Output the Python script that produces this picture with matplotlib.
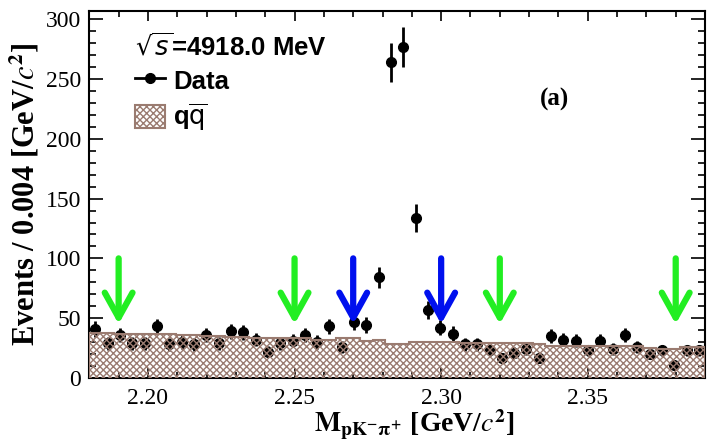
import numpy as np
import matplotlib.pyplot as plt
from matplotlib.lines import Line2D
from matplotlib.patches import Patch, FancyArrowPatch
from matplotlib.ticker import MultipleLocator

plt.rcParams['mathtext.fontset'] = 'stix'
plt.rcParams['hatch.linewidth'] = 1.0

# histogram range, 50 bins
m_lo, m_hi, n_bins = 2.18, 2.39, 50

# data counts per bin
counts = [41, 29, 36, 29, 29, 43, 28, 30, 28, 36,
          29, 39, 38, 32, 22, 29, 31, 36, 30, 43,
          26, 47, 44, 84, 264, 277, 134, 57, 42, 37,
          28, 28, 23, 17, 21, 24, 17, 35, 32, 31,
          23, 31, 24, 36, 26, 20, 23, 11, 23, 23]

# q-qbar background (MC), same binning
bkg = [37.5, 37.5, 37, 37, 37, 36.5, 36.5, 36, 35.5, 35,
       35, 34.5, 34, 33.5, 33, 33.5, 33, 33, 31.5, 31.5,
       33.5, 33.5, 30.5, 32, 28.5, 28, 30, 30, 30, 30,
       29, 29, 29, 29, 29, 29, 28.5, 27, 27, 27,
       27, 27, 27, 27, 26.5, 25, 24.5, 24.5, 26, 26]

# signal window (blue) and sideband (green) boundaries
green_cuts = [2.19, 2.25, 2.32, 2.38]
blue_cuts = [2.27, 2.30]
arrow_top, arrow_tip = 100, 45

brown = '#9a7b70'
hatch = 'xxxxx'

edges = np.linspace(m_lo, m_hi, n_bins + 1)
centers = 0.5 * (edges[:-1] + edges[1:])
counts = np.array(counts)
errs = np.sqrt(counts)

fig = plt.figure(figsize=(7.1, 4.44), dpi=100)
ax = fig.add_axes([0.1258, 0.149, 0.8672, 0.826])

ax.errorbar(centers, counts, yerr=errs, fmt='o', color='black', ms=7,
            elinewidth=2, capsize=0, zorder=2)

ax.stairs(bkg, edges, fill=True, facecolor='none', edgecolor=brown,
          hatch=hatch, lw=1.5, zorder=3)


def cut_arrow(x, col):
    ax.add_patch(FancyArrowPatch((x, arrow_top), (x, arrow_tip),
                                 arrowstyle='->,head_length=0.9,head_width=0.5',
                                 mutation_scale=20, lw=4.5, color=col,
                                 shrinkA=0, shrinkB=0, zorder=5))


for x in green_cuts:
    cut_arrow(x, '#22ee22')
for x in blue_cuts:
    cut_arrow(x, '#0010ee')

ax.set_xlim(m_lo, m_hi)
ax.set_ylim(0, 307)
ax.xaxis.set_major_locator(MultipleLocator(0.05))
ax.xaxis.set_minor_locator(MultipleLocator(0.01))
ax.yaxis.set_major_locator(MultipleLocator(50))
ax.yaxis.set_minor_locator(MultipleLocator(10))
ax.xaxis.set_major_formatter(plt.FormatStrFormatter('%.2f'))
ax.tick_params(which='both', direction='in', top=True, right=True, width=1.2)
ax.tick_params(axis='x', which='major', length=7.5, pad=7)
ax.tick_params(axis='x', which='minor', length=4)
ax.tick_params(axis='y', which='major', length=10, pad=6)
ax.tick_params(axis='y', which='minor', length=5)
for lab in ax.get_xticklabels() + ax.get_yticklabels():
    lab.set_fontfamily('Liberation Serif')
    lab.set_fontsize(17)
for sp in ax.spines.values():
    sp.set_linewidth(1.5)

ax.set_xlabel(r'$\mathbf{M}_{\mathbf{pK^{-}}\mathbf{\pi^{+}}}$ [GeV/$c^{\mathbf{2}}$]',
              fontfamily='Liberation Serif', fontweight='bold', fontsize=20)
ax.xaxis.set_label_coords(0.528, -0.082)
ax.set_ylabel(r'Events / 0.004 [GeV/$c^{\mathbf{2}}$]',
              fontfamily='Liberation Serif', fontweight='bold', fontsize=22, labelpad=3)

handles = [Line2D([], [], color='black', marker='o', ms=7, lw=2),
           Patch(facecolor='none', edgecolor=brown, hatch=hatch, lw=1.5)]
labels = ['Data', r'q$\overline{\mathrm{q}}$']
leg = ax.legend(handles, labels, loc='upper left', bbox_to_anchor=(0.075, 0.94),
                title=r'$\sqrt{s}$=4918.0 MeV', alignment='left', frameon=False,
                prop={'family': 'Liberation Sans', 'weight': 'bold', 'size': 18.5},
                title_fontproperties={'family': 'Liberation Sans', 'weight': 'bold', 'size': 18.5},
                handlelength=1.15, handleheight=1.0, handletextpad=0.3,
                labelspacing=0.3, borderpad=0, borderaxespad=0)
leg.get_title().set_math_fontfamily('dejavusans')
for t in leg.get_texts():
    t.set_math_fontfamily('dejavusans')

ax.text(0.756, 0.76, '(a)', transform=ax.transAxes, fontfamily='Liberation Serif',
        fontweight='bold', fontsize=18, ha='center', va='center')

fig.savefig('out.png', dpi=100)
